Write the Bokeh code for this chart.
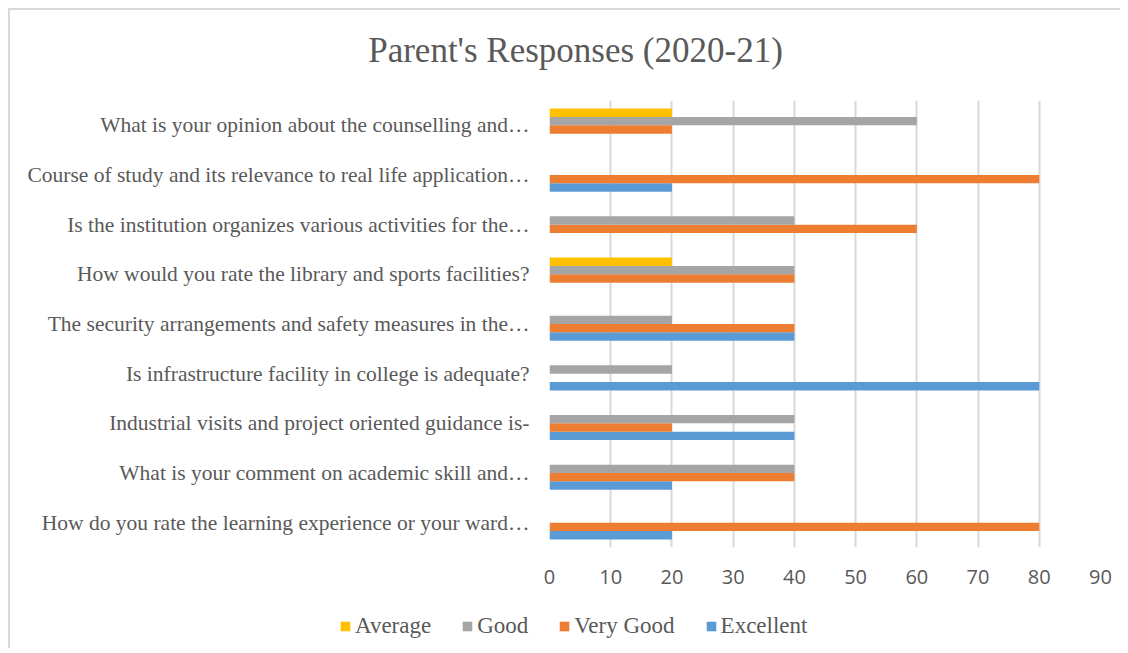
from bokeh.plotting import figure
from bokeh.models import (ColumnDataSource, FactorRange, Range1d, Legend, LegendItem,
                          FixedTicker, Label)
from bokeh.layouts import column
from bokeh.transform import dodge
from bokeh.embed import file_html
from bokeh.resources import INLINE

# categories listed bottom to top
categories = [
    "How do you rate the learning experience or your ward\u2026",
    "What is your comment on academic skill and\u2026",
    "Industrial visits and project oriented guidance is-",
    "Is infrastructure facility in college is adequate?",
    "The security arrangements and safety measures in the\u2026",
    "How would you rate the library and sports facilities?",
    "Is the institution organizes various activities for the\u2026",
    "Course of study and its relevance to real life application\u2026",
    "What is your opinion about the counselling and\u2026",
]
excellent = [20, 20, 40, 80, 40, 0, 0, 20, 0]
very_good = [80, 40, 20, 0, 40, 40, 60, 80, 20]
good = [0, 40, 40, 20, 20, 40, 40, 0, 60]
average = [0, 0, 0, 0, 0, 20, 0, 0, 20]
x_ticks = [0, 10, 20, 30, 40, 50, 60, 70, 80, 90]
title_text = "Parent's Responses (2020-21)"
legend_order = ["Average", "Good", "Very Good", "Excellent"]

W = 1110


def strip(h):
    f = figure(width=W, height=h, x_range=Range1d(0, W), y_range=Range1d(0, h),
               output_backend="svg", toolbar_location=None,
               x_axis_location=None, y_axis_location=None,
               min_border_left=0, min_border_right=0, min_border_top=0, min_border_bottom=0)
    f.outline_line_color = None
    f.xgrid.grid_line_color = None
    f.ygrid.grid_line_color = None
    if "frame_align" in f.properties():
        f.frame_align = False
    return f


# title strip
tf = strip(90)
tf.add_layout(Label(x=565, y=50, text=title_text, text_align="center", text_baseline="middle",
                    text_font="Liberation Serif", text_font_size="35px",
                    text_color="#595959"))

# main chart
source = ColumnDataSource(dict(cat=categories, excellent=excellent, very_good=very_good,
                               good=good, average=average))

p = figure(width=W, height=508, x_range=Range1d(0, 90), y_range=FactorRange(*categories),
           output_backend="svg", toolbar_location=None,
           min_border_left=539, min_border_right=20, min_border_top=0, min_border_bottom=61)
p.outline_line_color = None

bh = 0.169
series = [
    ("excellent", "Excellent", "#5B9BD5", -0.253),
    ("very_good", "Very Good", "#ED7D31", -0.084),
    ("good", "Good", "#A5A5A5", 0.084),
    ("average", "Average", "#FFC000", 0.253),
]
colors = {name: color for _, name, color, _ in series}
for key, name, color, off in series:
    p.hbar(y=dodge("cat", off, range=p.y_range), right=key, left=0, height=bh,
           source=source, fill_color=color, line_color=None)

p.xaxis.ticker = FixedTicker(ticks=x_ticks)
p.xaxis.axis_line_color = None
p.xaxis.major_tick_line_color = None
p.xaxis.minor_tick_line_color = None
p.xaxis.major_label_text_font = "Open Sans"
p.xaxis.major_label_text_font_size = "20px"
p.xaxis.major_label_text_color = "#595959"
p.xaxis.major_label_standoff = 16

p.yaxis.axis_line_color = None
p.yaxis.major_tick_line_color = None
p.yaxis.minor_tick_line_color = None
p.yaxis.major_label_text_font = "Liberation Serif"
p.yaxis.major_label_text_font_size = "21.5px"
p.yaxis.major_label_text_color = "#595959"
p.yaxis.major_label_standoff = 14

p.xgrid.grid_line_color = "#d9d9d9"
p.xgrid.grid_line_width = 2
p.ygrid.grid_line_color = None

# legend strip below the chart (swatches only, placed outside the visible area)
lg = strip(40)
items = []
for name in legend_order:
    r = lg.hbar(y=[-100], right=[0], left=0, height=1, fill_color=colors[name], line_color=None)
    items.append(LegendItem(label=name, renderers=[r]))
legend = Legend(items=items, orientation="horizontal", location=(329, 9), margin=0,
                label_text_font="Liberation Serif", label_text_font_size="23px",
                label_text_color="#595959", glyph_width=12, glyph_height=12,
                label_standoff=4, spacing=30, padding=5, border_line_color=None,
                background_fill_alpha=0)
lg.add_layout(legend, "center")

layout = column(tf, p, lg)
layout.styles = {"border-top": "2px solid #d9d9d9", "border-left": "2px solid #d9d9d9",
                 "margin-left": "8px", "margin-top": "8px"}

open("out.html", "w").write(file_html(layout, INLINE))
